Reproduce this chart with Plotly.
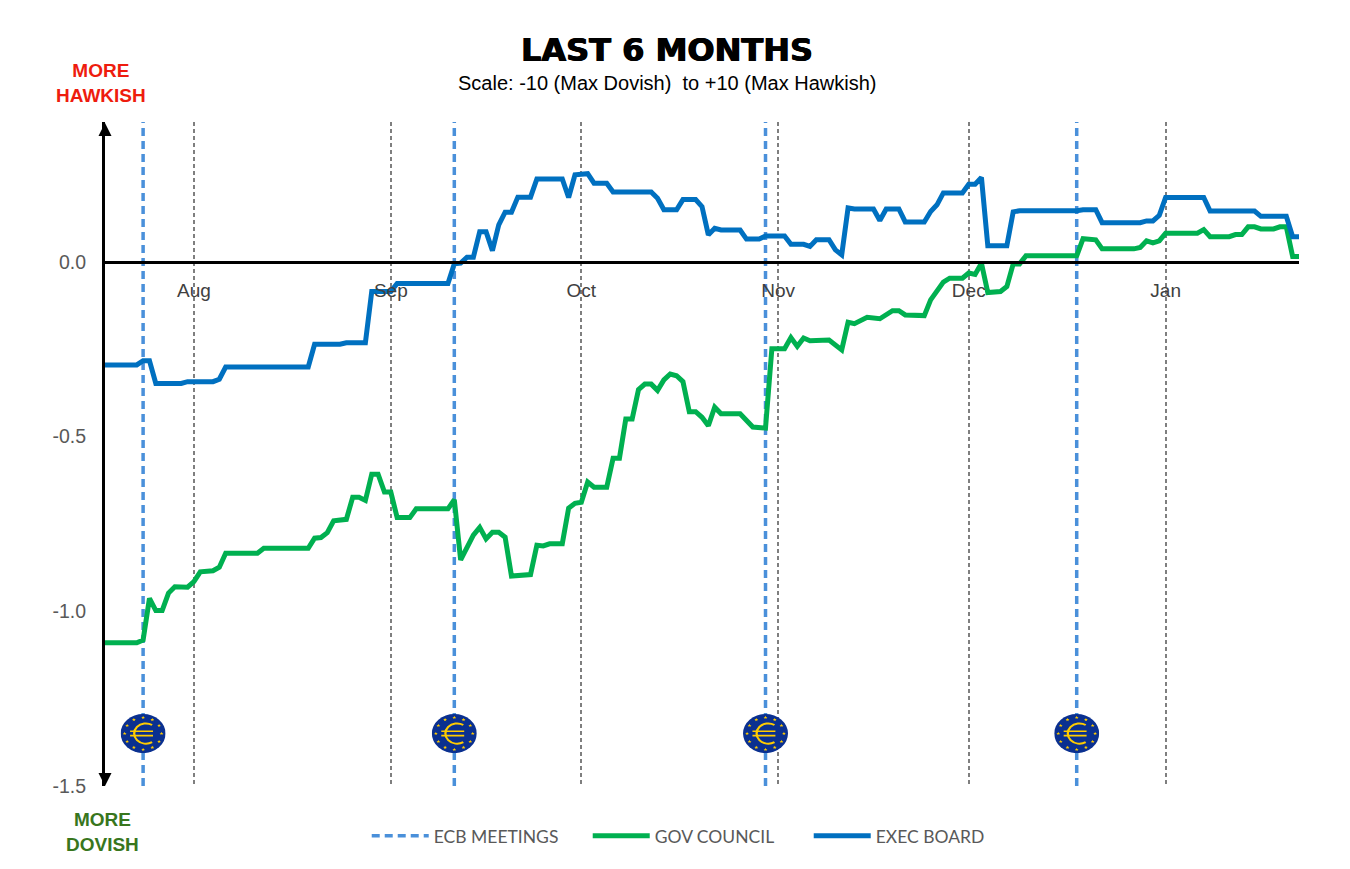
import base64, math
import plotly.graph_objects as go

month_ticks = ["2025-08-01", "2025-09-01", "2025-10-01", "2025-11-01", "2025-12-01", "2026-01-01"]
month_labels = ["Aug", "Sep", "Oct", "Nov", "Dec", "Jan"]
ecb_dates = ["2025-07-24", "2025-09-11", "2025-10-30", "2025-12-18"]
y_ticks = [0.0, -0.5, -1.0, -1.5]

exec_dates = ["2025-07-18","2025-07-23","2025-07-24","2025-07-25","2025-07-26","2025-07-30","2025-07-31","2025-08-04","2025-08-05","2025-08-06",
"2025-08-19","2025-08-20","2025-08-24","2025-08-25","2025-08-28","2025-08-29","2025-09-01","2025-09-02","2025-09-10","2025-09-11",
"2025-09-12","2025-09-13","2025-09-14","2025-09-15","2025-09-16","2025-09-17","2025-09-18","2025-09-19","2025-09-20","2025-09-21",
"2025-09-23","2025-09-24","2025-09-28","2025-09-29","2025-09-30","2025-10-01","2025-10-02","2025-10-03","2025-10-05","2025-10-06",
"2025-10-12","2025-10-13","2025-10-14","2025-10-16","2025-10-17","2025-10-19","2025-10-20","2025-10-21","2025-10-22","2025-10-23",
"2025-10-26","2025-10-27","2025-10-29","2025-10-30","2025-11-02","2025-11-03","2025-11-05","2025-11-06","2025-11-07","2025-11-09",
"2025-11-10","2025-11-11","2025-11-12","2025-11-13","2025-11-16","2025-11-17","2025-11-18","2025-11-20","2025-11-21","2025-11-24",
"2025-11-25","2025-11-26","2025-11-27","2025-11-30","2025-12-01","2025-12-02","2025-12-03","2025-12-04","2025-12-07","2025-12-08",
"2025-12-09","2025-12-18","2025-12-19","2025-12-21","2025-12-22","2025-12-28","2025-12-29","2025-12-30","2025-12-31","2026-01-01",
"2026-01-07","2026-01-08","2026-01-15","2026-01-16","2026-01-20","2026-01-21","2026-01-22"]
exec_values = [-0.295,-0.295,-0.283,-0.283,-0.348,-0.348,-0.343,-0.343,-0.336,-0.301,
-0.301,-0.236,-0.236,-0.232,-0.232,-0.085,-0.085,-0.062,-0.062,-0.006,
-0.004,0.013,0.013,0.086,0.086,0.032,0.106,0.142,0.142,0.185,
0.185,0.237,0.237,0.184,0.249,0.252,0.252,0.225,0.225,0.2,
0.2,0.182,0.149,0.149,0.178,0.178,0.158,0.077,0.096,0.091,
0.091,0.065,0.065,0.074,0.074,0.05,0.05,0.044,0.063,0.063,
0.034,0.02,0.154,0.151,0.151,0.118,0.151,0.151,0.114,0.114,
0.144,0.163,0.197,0.197,0.222,0.222,0.241,0.046,0.046,0.143,
0.146,0.146,0.149,0.149,0.112,0.112,0.117,0.117,0.133,0.184,
0.184,0.145,0.145,0.13,0.13,0.072,0.072]

gov_dates = ["2025-07-18","2025-07-23","2025-07-24","2025-07-25","2025-07-26","2025-07-27","2025-07-28","2025-07-29","2025-07-31","2025-08-01",
"2025-08-02","2025-08-04","2025-08-05","2025-08-06","2025-08-11","2025-08-12","2025-08-19","2025-08-20","2025-08-21","2025-08-22",
"2025-08-23","2025-08-25","2025-08-26","2025-08-27","2025-08-28","2025-08-29","2025-08-30","2025-08-31","2025-09-01","2025-09-02",
"2025-09-04","2025-09-05","2025-09-10","2025-09-11","2025-09-12","2025-09-14","2025-09-15","2025-09-16","2025-09-17","2025-09-18",
"2025-09-19","2025-09-20","2025-09-23","2025-09-24","2025-09-25","2025-09-26","2025-09-28","2025-09-29","2025-09-30","2025-10-01",
"2025-10-02","2025-10-03","2025-10-05","2025-10-06","2025-10-07","2025-10-08","2025-10-09","2025-10-10","2025-10-11","2025-10-12",
"2025-10-13","2025-10-14","2025-10-15","2025-10-16","2025-10-17","2025-10-18","2025-10-19","2025-10-20","2025-10-21","2025-10-22",
"2025-10-23","2025-10-26","2025-10-28","2025-10-30","2025-10-31","2025-11-02","2025-11-03","2025-11-04","2025-11-05","2025-11-06",
"2025-11-09","2025-11-11","2025-11-12","2025-11-13","2025-11-15","2025-11-17","2025-11-19","2025-11-20","2025-11-21","2025-11-24",
"2025-11-25","2025-11-26","2025-11-27","2025-11-28","2025-11-30","2025-12-01","2025-12-02","2025-12-03","2025-12-04","2025-12-06",
"2025-12-07","2025-12-08","2025-12-09","2025-12-10","2025-12-18","2025-12-19","2025-12-21","2025-12-22","2025-12-27","2025-12-28",
"2025-12-29","2025-12-30","2025-12-31","2026-01-01","2026-01-06","2026-01-07","2026-01-08","2026-01-11","2026-01-12","2026-01-13",
"2026-01-14","2026-01-15","2026-01-16","2026-01-18","2026-01-19","2026-01-20","2026-01-21","2026-01-22"]
gov_values = [-1.09,-1.09,-1.082,-0.963,-0.998,-0.998,-0.948,-0.93,-0.931,-0.915,
-0.887,-0.884,-0.874,-0.834,-0.834,-0.82,-0.82,-0.791,-0.789,-0.775,
-0.741,-0.737,-0.674,-0.674,-0.683,-0.608,-0.608,-0.659,-0.659,-0.732,
-0.732,-0.707,-0.707,-0.681,-0.853,-0.782,-0.76,-0.793,-0.774,-0.774,
-0.788,-0.899,-0.895,-0.811,-0.813,-0.807,-0.807,-0.705,-0.691,-0.688,
-0.63,-0.645,-0.645,-0.562,-0.562,-0.45,-0.45,-0.366,-0.35,-0.35,
-0.368,-0.338,-0.321,-0.326,-0.343,-0.429,-0.429,-0.445,-0.469,-0.416,
-0.435,-0.435,-0.473,-0.476,-0.249,-0.249,-0.217,-0.242,-0.218,-0.226,
-0.224,-0.252,-0.173,-0.177,-0.159,-0.163,-0.14,-0.14,-0.152,-0.154,
-0.109,-0.083,-0.058,-0.047,-0.047,-0.032,-0.036,-0.004,-0.088,-0.085,
-0.071,-0.006,-0.006,0.017,0.017,0.066,0.063,0.037,0.037,0.041,
0.06,0.054,0.06,0.082,0.082,0.092,0.072,0.072,0.078,0.078,
0.1,0.1,0.094,0.094,0.1,0.1,0.015,0.015]

NAVY, GOLD = "#0A3090", "#FFCC00"

def star(cx, cy, r):
    pts = []
    for i in range(10):
        rad = r if i % 2 == 0 else r * 0.42
        a = -math.pi / 2 + i * math.pi / 5
        pts.append(f"{cx + rad * math.cos(a):.2f},{cy + rad * math.sin(a):.2f}")
    return f'<polygon points="{" ".join(pts)}" fill="{GOLD}"/>'

stars = "".join(star(50 + 41 * math.sin(i * math.pi / 6), 50 - 41 * math.cos(i * math.pi / 6), 4.6) for i in range(12))
logo_svg = (
    '<svg xmlns="http://www.w3.org/2000/svg" width="200" height="200" viewBox="0 0 100 100" preserveAspectRatio="none">'
    f'<ellipse cx="50" cy="50" rx="50" ry="50" fill="{NAVY}"/>{stars}'
    f'<path d="M70 28 A26 26 0 1 0 70 72" fill="none" stroke="{GOLD}" stroke-width="5"/>'
    f'<path d="M21 44 H72 M21 55 H72" stroke="{GOLD}" stroke-width="4.4"/></svg>'
)
logo_src = "data:image/svg+xml;base64," + base64.b64encode(logo_svg.encode()).decode()

DAY_MS = 86400000
fig = go.Figure()

ecb_x, ecb_y = [], []
for d in ecb_dates:
    ecb_x += [d, d, None]
    ecb_y += [-1.5, 0.4, None]
fig.add_trace(go.Scatter(x=ecb_x, y=ecb_y, mode="lines", name="ECB MEETINGS",
                         line=dict(color="#4A90DA", width=3.5, dash="8px,5px")))
fig.add_trace(go.Scatter(x=gov_dates, y=gov_values, mode="lines", name="GOV COUNCIL",
                         line=dict(color="#00B050", width=5, shape="linear")))
fig.add_trace(go.Scatter(x=exec_dates, y=exec_values, mode="lines", name="EXEC BOARD",
                         line=dict(color="#0070C0", width=5, shape="linear")))

images = [dict(source=logo_src, xref="x", yref="y", x=d, y=-1.35, xanchor="center", yanchor="middle",
               sizex=7.08 * DAY_MS, sizey=0.1116, sizing="stretch", layer="above") for d in ecb_dates]

fig.update_layout(
    width=1350, height=869,
    margin=dict(l=105, r=51, t=122, b=83, autoexpand=False),
    paper_bgcolor="white", plot_bgcolor="white",
    font=dict(family="Liberation Sans", color="#595959"),
    images=images,
    shapes=[
        dict(type="path", xref="paper", yref="paper", xsizemode="pixel", ysizemode="pixel", xanchor=0, yanchor=1,
             path="M -6.5 -14 L 6.5 -14 L 0 -1 Z", fillcolor="black", line=dict(width=0)),
        dict(type="path", xref="paper", yref="paper", xsizemode="pixel", ysizemode="pixel", xanchor=0, yanchor=0,
             path="M -6.5 13 L 6.5 13 L 0 0 Z", fillcolor="black", line=dict(width=0)),
    ],
    xaxis=dict(
        type="date", range=["2025-07-18", "2026-01-22"], anchor="free", position=1.5 / 1.9,
        tickmode="array", tickvals=month_ticks, ticktext=month_labels,
        ticks="outside", ticklen=10, tickcolor="rgba(0,0,0,0)", tickfont=dict(size=19, color="#404040"),
        showgrid=True, gridcolor="#7F7F7F", griddash="4px,3px", gridwidth=2.2,
        showline=True, linecolor="black", linewidth=3, zeroline=False,
    ),
    yaxis=dict(
        range=[-1.5, 0.4], tickmode="array", tickvals=y_ticks, ticktext=["0.0", "-0.5", "-1.0", "-1.5"],
        ticks="outside", ticklen=12, tickcolor="rgba(0,0,0,0)", tickfont=dict(size=19.5, color="#595959"),
        showgrid=False, zeroline=False, showline=True, linecolor="black", linewidth=3,
    ),
    showlegend=True,
    legend=dict(orientation="h", xref="paper", yref="paper", x=0.2192, y=-0.048, xanchor="left", yanchor="top",
                itemwidth=57, font=dict(family="Lato", size=17.5, color="#595959"),
                bgcolor="rgba(0,0,0,0)", entrywidth=149, entrywidthmode="pixels"),
    annotations=[
        dict(text="<b>LAST 6 MONTHS</b>", xref="paper", yref="paper", x=0.471, y=1.1084, showarrow=False,
             xanchor="center", yanchor="middle",
             font=dict(family="DejaVu Sans", size=32, color="black", shadow="0.6px 0 0 black, -0.6px 0 0 black")),
        dict(text="Scale: -10 (Max Dovish)  to +10 (Max Hawkish)", xref="paper", yref="paper", x=0.471, y=1.0587,
             showarrow=False, xanchor="center", yanchor="middle", font=dict(family="Liberation Sans", size=20, color="black")),
        dict(text="<b>MORE<br>HAWKISH</b>", xref="paper", yref="paper", x=-0.00335, y=1.0587, showarrow=False,
             xanchor="center", yanchor="middle", font=dict(family="Liberation Sans", size=19, color="#EE1C0E")),
        dict(text="<b>MORE<br>DOVISH</b>", xref="paper", yref="paper", x=-0.0025, y=-0.0693, showarrow=False,
             xanchor="center", yanchor="middle", font=dict(family="Liberation Sans", size=19, color="#38761D")),
    ],
)

fig.write_html("out.html", config={"displayModeBar": False}, post_script="document.body.style.margin='0';")
